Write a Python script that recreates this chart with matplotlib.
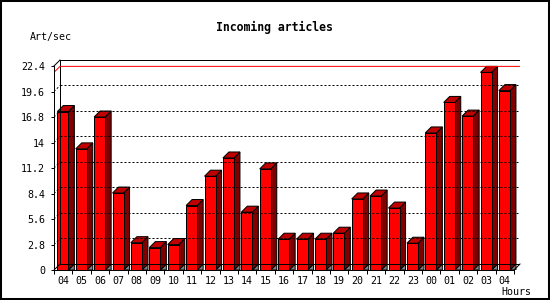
import numpy as np
import matplotlib
matplotlib.use("Agg")
import matplotlib.pyplot as plt
from matplotlib.patches import Polygon, Rectangle

# hourly rate
HOURS = ["04", "05", "06", "07", "08", "09", "10", "11", "12", "13", "14", "15",
         "16", "17", "18", "19", "20", "21", "22", "23", "00", "01", "02", "03", "04"]
RATE = [17.4, 13.3, 16.8, 8.45, 3.0, 2.46, 2.79, 7.08, 10.3, 12.3, 6.35, 11.1,
        3.38, 3.38, 3.38, 4.04, 7.8, 8.12, 6.8, 2.94, 15.05, 18.4, 16.9, 21.7, 19.7]
YTICKS = [0, 2.8, 5.6, 8.4, 11.2, 14, 16.8, 19.6, 22.4]

FONT = "DejaVu Sans Mono"
N = len(RATE)
YTOP = YTICKS[-1]

# pseudo-3d depth, converted from pixels to data units
SLOT_PX = 460 / N
UNIT_PX = 9.1
DX = 6 / SLOT_PX
DY = 6 / UNIT_PX
OFF, W = 0.18, 0.6


def main():
    fig = plt.figure(figsize=(5.5, 3), dpi=100)
    fig.patch.set_facecolor("white")
    ax = fig.add_axes([54 / 550, 30 / 300, 466 / 550, 210 / 300])
    ax.set_xlim(0, N + DX)
    ax.set_ylim(0, YTOP + DY)
    ax.patch.set_visible(False)

    lw = 0.72
    # back wall + left wall outline
    ax.plot([DX, N + DX, N + DX], [YTOP + DY, YTOP + DY, DY], color="black", lw=lw)
    ax.plot([DX, DX], [DY, YTOP + DY], color="black", lw=lw)
    ax.plot([DX, N + DX], [DY, DY], color="black", lw=lw)
    ax.plot([0, DX], [YTOP, YTOP + DY], color="black", lw=lw, clip_on=False)
    ax.plot([0, DX], [0, DY], color="black", lw=lw, clip_on=False)
    ax.plot([N, N + DX], [0, DY], color="black", lw=lw, clip_on=False)

    # dotted grid on the back wall
    for v in YTICKS[1:-1]:
        ax.plot([DX, N + DX], [v + DY, v + DY], color="black", lw=lw,
                linestyle=(0, (2, 2)))
        ax.plot([0, DX], [v, v + DY], color="black", lw=lw, linestyle=(0, (2, 2)))

    # max line
    top = max(RATE)
    ax.plot([0, DX, N + DX], [top, top + DY, top + DY], color="#ff0000", lw=lw)

    for i, h in enumerate(RATE):
        x0 = i + OFF
        x1 = x0 + W
        ax.add_patch(Polygon([(x1, 0), (x1 + DX, DY), (x1 + DX, 0)],
                             facecolor="#808080", edgecolor="black", lw=lw))
        ax.add_patch(Polygon([(x1, 0), (x1 + DX, DY), (x1 + DX, h + DY), (x1, h)],
                             facecolor="#800000", edgecolor="black", lw=lw))
        ax.add_patch(Polygon([(x0, h), (x1, h), (x1 + DX, h + DY), (x0 + DX, h + DY)],
                             facecolor="#c00000", edgecolor="black", lw=lw))
        ax.add_patch(Rectangle((x0, 0), W, h, facecolor="#ff0000",
                               edgecolor="black", lw=lw))

    for s in ("top", "right"):
        ax.spines[s].set_visible(False)
    ax.spines["left"].set_bounds(0, YTOP)
    ax.spines["bottom"].set_bounds(0, N)
    ax.spines["left"].set_linewidth(lw)
    ax.spines["bottom"].set_linewidth(lw)

    ax.set_yticks(YTICKS)
    ax.set_yticklabels([f"{v:g}" for v in YTICKS])
    ax.tick_params(axis="y", length=2.5, width=lw, pad=4, labelsize=7.2)
    ax.set_xticks(np.arange(N) + 0.5)
    ax.set_xticklabels(HOURS)
    ax.set_xticks(np.arange(N + 1), minor=True)
    ax.tick_params(axis="x", which="major", length=0, pad=4, labelsize=7.2)
    ax.tick_params(axis="x", which="minor", length=3, width=lw)
    for lab in ax.get_xticklabels() + ax.get_yticklabels():
        lab.set_family(FONT)

    fig.text(274 / 550, 1 - 27 / 300, "Incoming articles", ha="center", va="center",
             family=FONT, fontsize=8.3, fontweight="bold")
    fig.text(30 / 550, 1 - 37 / 300, "Art/sec", ha="left", va="center",
             family=FONT, fontsize=7.2)
    fig.text(531 / 550, 1 - 292 / 300, "Hours", ha="right", va="center",
             family=FONT, fontsize=7.2)

    fig.add_artist(Rectangle((0, 0), 1, 1, transform=fig.transFigure, fill=False,
                             edgecolor="black", lw=2.9))
    fig.savefig("out.png", dpi=100)


if __name__ == "__main__":
    main()
